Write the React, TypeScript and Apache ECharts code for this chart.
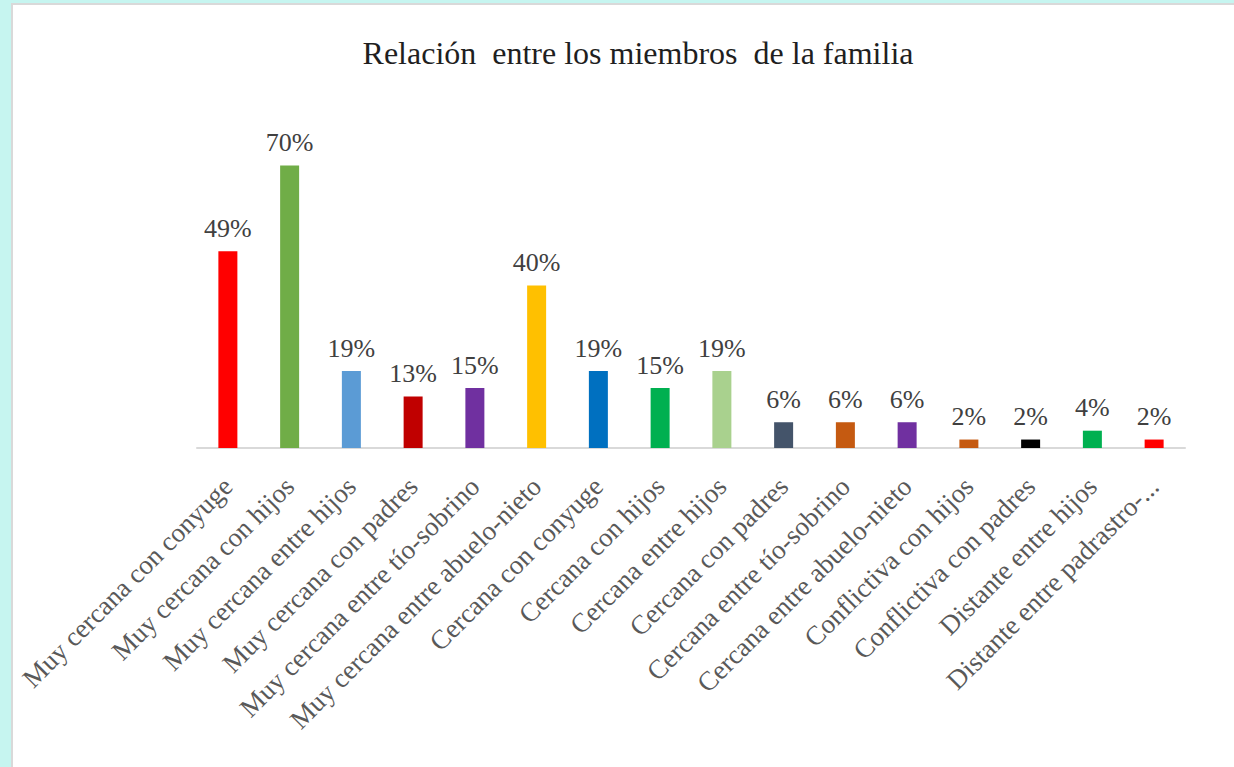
import React, { useEffect, useRef } from "react";
import * as echarts from "echarts";

const titleText = "Relación  entre los miembros  de la familia";

const categories = [
  "Muy cercana con conyuge",
  "Muy cercana con hijos",
  "Muy cercana entre hijos",
  "Muy cercana con padres",
  "Muy cercana entre tío-sobrino",
  "Muy cercana entre abuelo-nieto",
  "Cercana con conyuge",
  "Cercana con hijos",
  "Cercana entre hijos",
  "Cercana con padres",
  "Cercana entre tío-sobrino",
  "Cercana entre abuelo-nieto",
  "Conflictiva con hijos",
  "Conflictiva con padres",
  "Distante entre hijos",
  "Distante entre padrastro-...",
];

const values = [48.9, 70.2, 19.1, 12.8, 14.9, 40.4, 19.1, 14.9, 19.1, 6.4, 6.4, 6.4, 2.1, 2.1, 4.3, 2.1];

const colors = [
  "#FF0000",
  "#70AD47",
  "#5B9BD5",
  "#C00000",
  "#7030A0",
  "#FFC000",
  "#0070C0",
  "#00B050",
  "#A9D18E",
  "#44546A",
  "#C55A11",
  "#7030A0",
  "#C55A11",
  "#000000",
  "#00B050",
  "#FF0000",
];

export default function App() {
  const ref = useRef<HTMLDivElement>(null);

  useEffect(() => {
    document.body.style.margin = "0";
    if (!ref.current) return;
    const chart = echarts.init(ref.current, undefined, { renderer: "svg" });
    const font = "'Liberation Serif', 'Times New Roman', serif";
    chart.setOption({
      animation: false,
      backgroundColor: "#C6F5F0",
      graphic: [
        {
          type: "rect",
          z: -10,
          silent: true,
          shape: { x: 12, y: 4, width: 1240, height: 780 },
          style: { fill: "#FFFFFF", stroke: "#D9D9D9", lineWidth: 2 },
        },
      ],
      title: {
        text: titleText,
        left: 633,
        top: 32,
        textAlign: "center",
        textStyle: {
          fontFamily: font,
          fontSize: 32,
          fontWeight: "normal",
          color: "#1F1F1F",
        },
      },
      grid: { left: 197, right: 49, top: 126, bottom: 319, containLabel: false },
      xAxis: {
        type: "category",
        data: categories,
        axisLine: { show: true, lineStyle: { color: "#D9D9D9", width: 2 } },
        axisTick: { show: false },
        axisLabel: {
          interval: 0,
          rotate: 45,
          margin: 34,
          fontFamily: font,
          fontSize: 27,
          color: "#595959",
        },
      },
      yAxis: {
        type: "value",
        min: 0,
        max: 80,
        show: false,
        splitLine: { show: false },
      },
      series: [
        {
          type: "bar",
          barWidth: 19,
          data: values.map((v, i) => ({ value: v, itemStyle: { color: colors[i] } })),
          label: {
            show: true,
            position: "top",
            distance: 10,
            fontFamily: font,
            fontSize: 26,
            color: "#404040",
            formatter: (p: any) => Math.round(p.value) + "%",
          },
        },
      ],
    });
    return () => chart.dispose();
  }, []);

  return <div ref={ref} style={{ width: 1234, height: 767 }} />;
}
